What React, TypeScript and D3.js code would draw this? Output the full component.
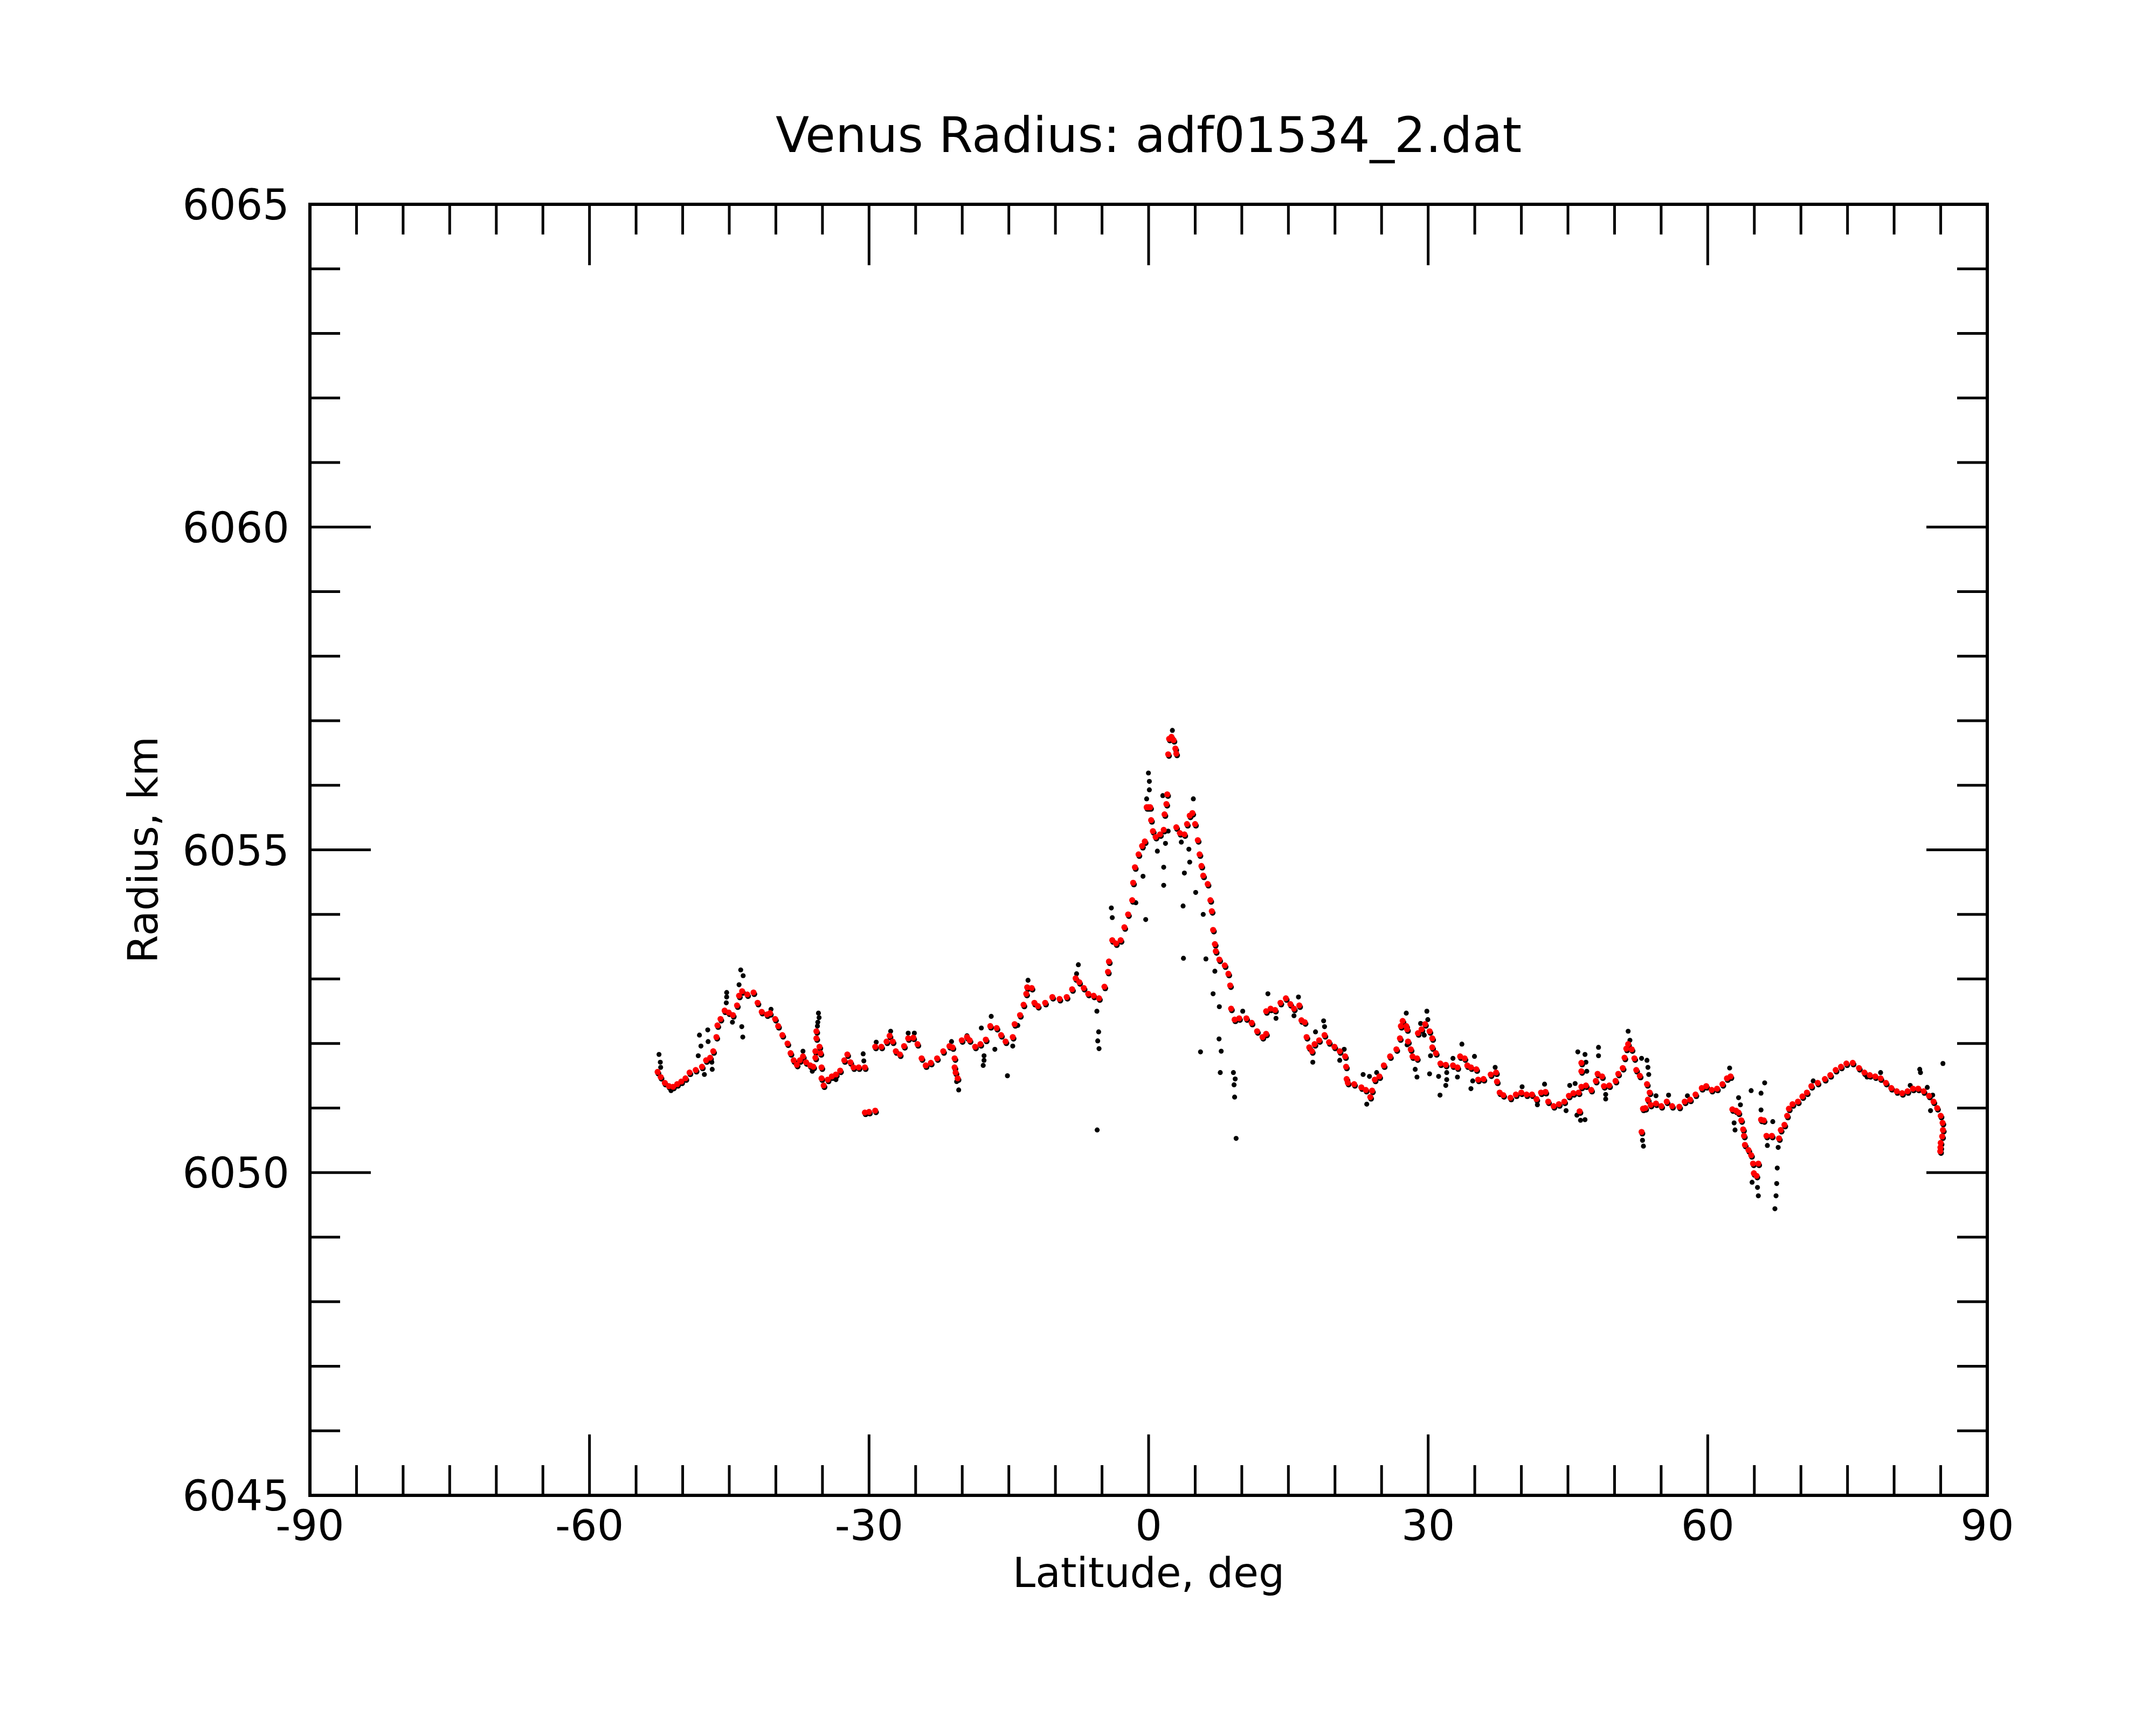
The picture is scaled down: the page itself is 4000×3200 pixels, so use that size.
import * as d3 from "d3";

// latitude (deg), radius (km) – smoothed profile (red)
const redPoints: [number, number][] = [
  [-52.69, 6051.56], [-52.36, 6051.48], [-51.92, 6051.39], [-51.48, 6051.34], [-51.03, 6051.33],
  [-50.59, 6051.37], [-50.15, 6051.41], [-49.7, 6051.46], [-49.26, 6051.55], [-48.6, 6051.59],
  [-47.93, 6051.64], [-47.49, 6051.74], [-47.05, 6051.78], [-46.72, 6051.88], [-46.38, 6052.1],
  [-46.27, 6052.28], [-45.94, 6052.38], [-45.5, 6052.51], [-45.06, 6052.48], [-44.61, 6052.44],
  [-44.17, 6052.59], [-43.95, 6052.74], [-43.62, 6052.81], [-43.07, 6052.76], [-42.4, 6052.79],
  [-41.96, 6052.63], [-41.52, 6052.49], [-40.96, 6052.45], [-40.63, 6052.47], [-40.08, 6052.38],
  [-39.75, 6052.27], [-39.3, 6052.13], [-38.75, 6052.0], [-38.42, 6051.85], [-38.09, 6051.74],
  [-37.75, 6051.67], [-37.42, 6051.74], [-37.09, 6051.8], [-36.76, 6051.71], [-36.31, 6051.66],
  [-35.98, 6051.64], [-35.65, 6052.19], [-35.65, 6052.08], [-35.32, 6051.95], [-35.76, 6051.88],
  [-35.21, 6051.85], [-35.76, 6051.78], [-35.1, 6051.63], [-35.1, 6051.46], [-34.87, 6051.35],
  [-34.43, 6051.44], [-33.99, 6051.49], [-33.55, 6051.52], [-33.1, 6051.58], [-32.66, 6051.74],
  [-32.33, 6051.83], [-32.0, 6051.71], [-31.67, 6051.63], [-31.11, 6051.63], [-30.45, 6051.63],
  [-30.45, 6050.93], [-30.0, 6050.94], [-29.34, 6050.96], [-29.34, 6051.95], [-28.68, 6051.95],
  [-28.12, 6052.03], [-27.79, 6052.12], [-27.46, 6052.03], [-27.13, 6051.88], [-26.69, 6051.83],
  [-26.24, 6051.96], [-25.8, 6052.08], [-25.25, 6052.09], [-24.8, 6051.99], [-24.36, 6051.77],
  [-23.92, 6051.66], [-23.37, 6051.7], [-22.7, 6051.77], [-22.04, 6051.88], [-21.37, 6051.96],
  [-21.04, 6051.94], [-20.82, 6051.77], [-20.82, 6051.63], [-20.71, 6051.55], [-20.49, 6051.46],
  [-20.05, 6052.05], [-19.49, 6052.1], [-19.2, 6052.05], [-18.62, 6051.95], [-18.05, 6051.99],
  [-17.47, 6052.06], [-16.99, 6052.27], [-16.31, 6052.24], [-15.83, 6052.13], [-15.35, 6052.03],
  [-14.58, 6052.1], [-14.38, 6052.3], [-13.8, 6052.44], [-13.42, 6052.6], [-13.13, 6052.77],
  [-13.03, 6052.87], [-12.55, 6052.86], [-12.26, 6052.63], [-11.88, 6052.58], [-11.1, 6052.63],
  [-10.33, 6052.72], [-9.56, 6052.69], [-8.79, 6052.72], [-8.21, 6052.84], [-7.83, 6053.01],
  [-7.44, 6052.95], [-6.96, 6052.86], [-6.48, 6052.77], [-5.9, 6052.74], [-5.32, 6052.7],
  [-4.74, 6052.88], [-4.36, 6053.11], [-4.26, 6053.27], [-3.9, 6053.6], [-3.5, 6053.55],
  [-3.0, 6053.6], [-2.6, 6053.8], [-2.2, 6054.0], [-1.76, 6054.22], [-1.66, 6054.49],
  [-1.47, 6054.73], [-1.08, 6054.93], [-0.7, 6055.06], [-0.41, 6055.13], [-0.21, 6055.66],
  [-0.02, 6055.66], [0.17, 6055.66], [0.27, 6055.46], [0.46, 6055.29], [0.75, 6055.2],
  [1.23, 6055.24], [1.62, 6055.31], [1.71, 6055.55], [1.91, 6055.71], [2.0, 6055.86],
  [2.1, 6056.48], [2.2, 6056.72], [2.45, 6056.75], [2.68, 6056.7], [2.87, 6056.57],
  [2.97, 6056.49], [2.97, 6055.35], [3.35, 6055.26], [3.84, 6055.24], [4.12, 6055.4],
  [4.41, 6055.53], [4.7, 6055.57], [4.99, 6055.4], [5.28, 6055.15], [5.47, 6054.93],
  [5.67, 6054.75], [5.86, 6054.6], [6.34, 6054.47], [6.63, 6054.22], [6.78, 6054.05],
  [6.92, 6053.76], [7.11, 6053.54], [7.21, 6053.43], [7.59, 6053.3], [8.17, 6053.21],
  [8.56, 6053.08], [8.75, 6052.9], [8.85, 6052.54], [9.23, 6052.37], [9.72, 6052.39],
  [10.49, 6052.39], [11.06, 6052.32], [11.64, 6052.19], [12.22, 6052.1], [12.61, 6052.15],
  [12.61, 6052.5], [13.09, 6052.54], [13.57, 6052.52], [14.15, 6052.63], [14.73, 6052.7],
  [15.21, 6052.61], [15.6, 6052.54], [16.17, 6052.59], [16.4, 6052.36], [16.75, 6052.33],
  [16.95, 6052.1], [17.24, 6051.94], [17.53, 6051.88], [17.81, 6051.99], [18.3, 6052.05],
  [18.88, 6052.13], [19.36, 6052.02], [19.94, 6051.95], [20.51, 6051.88], [21.09, 6051.8],
  [21.19, 6051.64], [21.25, 6051.45], [21.38, 6051.39], [22.06, 6051.37], [22.83, 6051.32],
  [23.31, 6051.28], [23.79, 6051.17], [23.98, 6051.27], [24.27, 6051.44], [24.76, 6051.49],
  [25.24, 6051.66], [25.91, 6051.8], [26.59, 6051.91], [26.97, 6052.08], [27.07, 6052.27],
  [27.26, 6052.35], [27.65, 6052.27], [27.74, 6052.22], [27.84, 6052.03], [28.13, 6051.91],
  [28.32, 6051.8], [28.8, 6051.77], [28.9, 6052.16], [29.29, 6052.22], [29.67, 6052.3],
  [30.15, 6052.19], [30.44, 6052.08], [30.44, 6051.94], [30.83, 6051.85], [31.31, 6051.69],
  [31.89, 6051.67], [32.66, 6051.66], [33.14, 6051.63], [33.43, 6051.8], [33.91, 6051.77],
  [34.2, 6051.66], [34.59, 6051.63], [35.17, 6051.6], [35.36, 6051.44], [35.94, 6051.45],
  [36.71, 6051.52], [37.29, 6051.55], [37.38, 6051.41], [37.67, 6051.24], [38.06, 6051.2],
  [38.83, 6051.16], [39.41, 6051.21], [39.99, 6051.24], [40.56, 6051.21], [41.14, 6051.21],
  [41.62, 6051.14], [42.11, 6051.24], [42.59, 6051.25], [42.88, 6051.1], [43.46, 6051.03],
  [44.03, 6051.06], [44.61, 6051.1], [45.1, 6051.19], [45.58, 6051.23], [46.15, 6051.24],
  [46.25, 6050.95], [46.44, 6051.33], [46.44, 6051.57], [46.44, 6051.7], [46.93, 6051.35],
  [47.5, 6051.28], [47.99, 6051.42], [48.18, 6051.53], [48.66, 6051.49], [48.86, 6051.34],
  [49.43, 6051.35], [50.11, 6051.42], [50.4, 6051.53], [50.88, 6051.62], [51.07, 6051.78],
  [51.26, 6051.92], [51.46, 6051.99], [51.84, 6051.91], [52.13, 6051.77], [52.33, 6051.59],
  [52.71, 6051.5], [52.9, 6050.63], [53.05, 6050.99], [53.3, 6051.0], [53.48, 6051.37],
  [53.58, 6051.13], [53.77, 6051.24], [53.87, 6051.05], [54.45, 6051.07], [55.02, 6051.03],
  [55.6, 6051.1], [56.18, 6051.03], [56.95, 6051.02], [57.53, 6051.1], [58.11, 6051.13],
  [58.69, 6051.21], [59.36, 6051.31], [59.84, 6051.34], [60.42, 6051.28], [61.0, 6051.3],
  [61.58, 6051.37], [62.06, 6051.46], [62.45, 6051.49], [62.64, 6050.98], [63.03, 6050.96],
  [63.31, 6050.93], [63.6, 6050.81], [63.8, 6050.67], [63.89, 6050.57], [63.99, 6050.43],
  [64.37, 6050.35], [64.66, 6050.27], [64.86, 6050.14], [64.95, 6049.99], [65.24, 6049.95],
  [65.43, 6050.14], [65.72, 6050.82], [66.01, 6050.81], [66.3, 6050.57], [66.88, 6050.57],
  [67.65, 6050.53], [67.84, 6050.66], [68.23, 6050.74], [68.52, 6050.88], [68.71, 6050.99],
  [69.1, 6051.06], [69.68, 6051.1], [70.16, 6051.18], [70.64, 6051.24], [71.12, 6051.34],
  [71.8, 6051.39], [72.57, 6051.45], [73.15, 6051.51], [73.73, 6051.59], [74.3, 6051.64],
  [74.88, 6051.69], [75.56, 6051.7], [76.23, 6051.62], [76.81, 6051.55], [77.39, 6051.51],
  [77.97, 6051.49], [78.55, 6051.46], [79.12, 6051.39], [79.7, 6051.31], [80.28, 6051.26],
  [80.86, 6051.23], [81.44, 6051.26], [82.02, 6051.3], [82.59, 6051.3], [83.17, 6051.26],
  [83.75, 6051.19], [84.23, 6051.1], [84.62, 6051.0], [85.0, 6050.88], [85.2, 6050.77],
  [85.24, 6050.66], [85.16, 6050.56], [85.0, 6050.46], [84.97, 6050.39], [84.95, 6050.33],
];

// raw samples that stand away from the smoothed profile (black)
const blackPoints: [number, number][] = [
  [-52.54, 6051.83], [-52.4, 6051.71], [-52.36, 6051.63], [-51.25, 6051.27], [-48.2, 6052.13],
  [-48.04, 6051.96], [-47.31, 6052.21], [-47.27, 6052.03], [-48.33, 6051.81], [-47.67, 6051.52],
  [-46.83, 6051.6], [-46.87, 6051.71], [-45.28, 6052.79], [-45.28, 6052.72], [-45.32, 6052.63],
  [-44.66, 6052.33], [-43.77, 6053.14], [-43.51, 6053.05], [-43.95, 6052.91], [-43.66, 6052.26],
  [-43.55, 6052.1], [-40.52, 6052.53], [-37.09, 6051.88], [-35.43, 6052.47], [-35.36, 6052.4],
  [-35.5, 6052.33], [-35.54, 6052.27], [-36.09, 6051.57], [-30.63, 6051.84], [-30.56, 6051.73],
  [-29.23, 6052.02], [-27.68, 6052.19], [-25.8, 6052.16], [-25.14, 6052.16], [-21.15, 6052.03],
  [-20.6, 6051.41], [-20.38, 6051.28], [-19.49, 6052.12], [-33.55, 6051.44],
  [-17.95, 6052.24], [-16.89, 6052.42], [-17.66, 6051.81], [-17.66, 6051.74], [-17.75, 6051.66],
  [-16.5, 6051.91], [-15.15, 6051.5], [-12.94, 6052.98], [-7.54, 6053.22], [-7.73, 6053.08],
  [-5.55, 6052.5], [-5.36, 6052.18], [-5.46, 6052.04], [-5.32, 6051.92], [-5.52, 6050.66],
  [-14.04, 6052.28], [-14.58, 6051.96], [-4.0, 6054.1], [-3.9, 6053.95],
  [-0.02, 6056.19], [0.08, 6056.06], [0.08, 6055.93], [-0.21, 6055.79], [-1.37, 6054.18],
  [-0.31, 6053.92], [-0.6, 6054.59], [0.94, 6054.98], [1.62, 6054.73], [1.62, 6054.45],
  [1.81, 6055.1], [1.52, 6055.84], [2.1, 6055.29], [3.51, 6055.12], [4.32, 6055.01],
  [4.41, 6054.81], [3.84, 6054.64], [5.05, 6054.34], [3.7, 6054.13], [5.86, 6054.0],
  [3.74, 6053.32], [6.15, 6053.31], [4.8, 6055.79], [6.92, 6052.77], [7.59, 6052.57],
  [7.56, 6052.07], [7.79, 6051.88], [5.57, 6051.87], [7.69, 6051.55], [9.1, 6051.55],
  [9.29, 6051.45], [9.17, 6051.36], [9.23, 6051.17], [9.39, 6050.53], [12.8, 6052.77],
  [13.67, 6052.39], [15.6, 6052.43], [16.08, 6052.72], [7.11, 6053.12], [10.1, 6052.5],
  [2.55, 6056.85], [18.78, 6052.35], [18.88, 6052.26], [17.91, 6052.18], [17.62, 6051.71],
  [20.99, 6051.91], [20.51, 6051.74], [23.02, 6051.52], [23.7, 6051.49], [24.47, 6051.55],
  [23.41, 6051.06], [27.65, 6052.47], [29.86, 6052.5], [29.96, 6052.37], [29.19, 6052.31],
  [29.58, 6052.13], [28.61, 6051.6], [28.8, 6051.48], [27.74, 6051.98], [30.25, 6051.81],
  [30.15, 6051.53], [31.12, 6051.49], [31.99, 6051.55], [31.99, 6051.44], [31.89, 6051.35],
  [31.27, 6051.2], [32.66, 6051.77], [33.14, 6051.48], [33.62, 6051.99], [34.97, 6051.8],
  [34.78, 6051.42], [34.59, 6051.3], [37.19, 6051.63], [40.08, 6051.33], [42.49, 6051.37],
  [41.72, 6051.05], [44.8, 6050.96], [45.19, 6051.35], [45.77, 6051.38], [46.06, 6051.87],
  [45.96, 6050.89], [46.35, 6050.81], [46.83, 6051.83], [46.93, 6051.71], [47.02, 6051.57],
  [46.83, 6050.82], [48.28, 6051.94], [48.28, 6051.81], [49.05, 6051.21], [49.05, 6051.14],
  [51.46, 6052.19], [51.65, 6052.05], [52.9, 6051.77], [53.48, 6051.74], [53.58, 6051.63],
  [53.67, 6051.52], [53.0, 6050.5], [53.1, 6050.41], [54.45, 6051.19], [55.8, 6051.2],
  [57.82, 6051.19], [62.35, 6051.62], [63.31, 6051.16], [63.51, 6051.05], [62.83, 6050.77],
  [62.93, 6050.66], [64.76, 6049.85], [65.34, 6049.77], [65.43, 6049.64], [64.66, 6051.27],
  [65.72, 6051.23], [66.11, 6051.39], [65.72, 6050.97], [66.98, 6050.79], [66.4, 6050.42],
  [67.56, 6050.39], [67.46, 6050.07], [67.4, 6049.83], [67.33, 6049.64], [67.21, 6049.44],
  [71.32, 6051.42], [82.75, 6051.6], [82.83, 6051.55], [85.24, 6051.69], [83.56, 6051.32],
  [84.14, 6051.2], [83.91, 6050.96], [81.73, 6051.35], [78.55, 6051.55], [77.1, 6051.48],
];

const xMajorTicks = [-90, -60, -30, 0, 30, 60, 90];
const yMajorTicks = [6045, 6050, 6055, 6060, 6065];

const title = "Venus Radius: adf01534_2.dat";
const xTitle = "Latitude, deg";
const yTitle = "Radius, km";

const W = 4000;
const H = 3200;
const left = 575;
const right = 3687;
const top = 379;
const bottom = 2774;

export default function App() {
  const x = d3.scaleLinear().domain([-90, 90]).range([left, right]);
  const y = d3.scaleLinear().domain([6045, 6065]).range([bottom, top]);

  const xMinor = d3.range(-90, 90.01, 5).filter((v) => !xMajorTicks.includes(v));
  const yMinor = d3.range(6045, 6065.01, 1).filter((v) => !yMajorTicks.includes(v));
  const major = 113;
  const minor = 56;
  const font = "'DejaVu Sans', sans-serif";

  return (
    <svg
      width={W}
      height={H}
      viewBox={`0 0 ${W} ${H}`}
      style={{ position: "absolute", left: 0, top: 0, background: "#fff" }}
    >
      <rect width={W} height={H} fill="#fff" />
      <text x={(left + right) / 2} y={282} textAnchor="middle" fontFamily={font} fontSize={91}>
        {title}
      </text>

      {/* data: raw samples under the smoothed profile */}
      <g fill="#000" transform="translate(1.5,3)">
        {redPoints.map((d, i) => (
          <circle key={"s" + i} cx={x(d[0])} cy={y(d[1])} r={5.4} />
        ))}
      </g>
      <g fill="#000">
        {blackPoints.map((d, i) => (
          <circle key={"b" + i} cx={x(d[0])} cy={y(d[1])} r={4.6} />
        ))}
      </g>
      <g fill="#ff0000">
        {redPoints.map((d, i) => (
          <circle key={"r" + i} cx={x(d[0])} cy={y(d[1])} r={5.6} />
        ))}
      </g>

      {/* frame and ticks */}
      <g stroke="#000" strokeWidth={5}>
        {xMajorTicks.concat(xMinor).map((v) => {
          const len = xMajorTicks.includes(v) ? major : minor;
          return (
            <g key={"xt" + v}>
              <line x1={x(v)} x2={x(v)} y1={bottom} y2={bottom - len} />
              <line x1={x(v)} x2={x(v)} y1={top} y2={top + len} />
            </g>
          );
        })}
        {yMajorTicks.concat(yMinor).map((v) => {
          const len = yMajorTicks.includes(v) ? major : minor;
          return (
            <g key={"yt" + v}>
              <line x1={left} x2={left + len} y1={y(v)} y2={y(v)} />
              <line x1={right} x2={right - len} y1={y(v)} y2={y(v)} />
            </g>
          );
        })}
        <rect
          x={left}
          y={top}
          width={right - left}
          height={bottom - top}
          fill="none"
          strokeWidth={6}
        />
      </g>

      <g fontFamily={font} fontSize={78} fill="#000">
        {xMajorTicks.map((v) => (
          <text key={"xl" + v} x={x(v)} y={2857} textAnchor="middle">
            {v}
          </text>
        ))}
        {yMajorTicks.map((v) => (
          <text key={"yl" + v} x={537} y={y(v) + 28} textAnchor="end">
            {v}
          </text>
        ))}
      </g>

      <text x={(left + right) / 2} y={2944} textAnchor="middle" fontFamily={font} fontSize={76}>
        {xTitle}
      </text>
      <text
        transform={`translate(292,${(top + bottom) / 2}) rotate(-90)`}
        textAnchor="middle"
        fontFamily={font}
        fontSize={76}
      >
        {yTitle}
      </text>
    </svg>
  );
}
